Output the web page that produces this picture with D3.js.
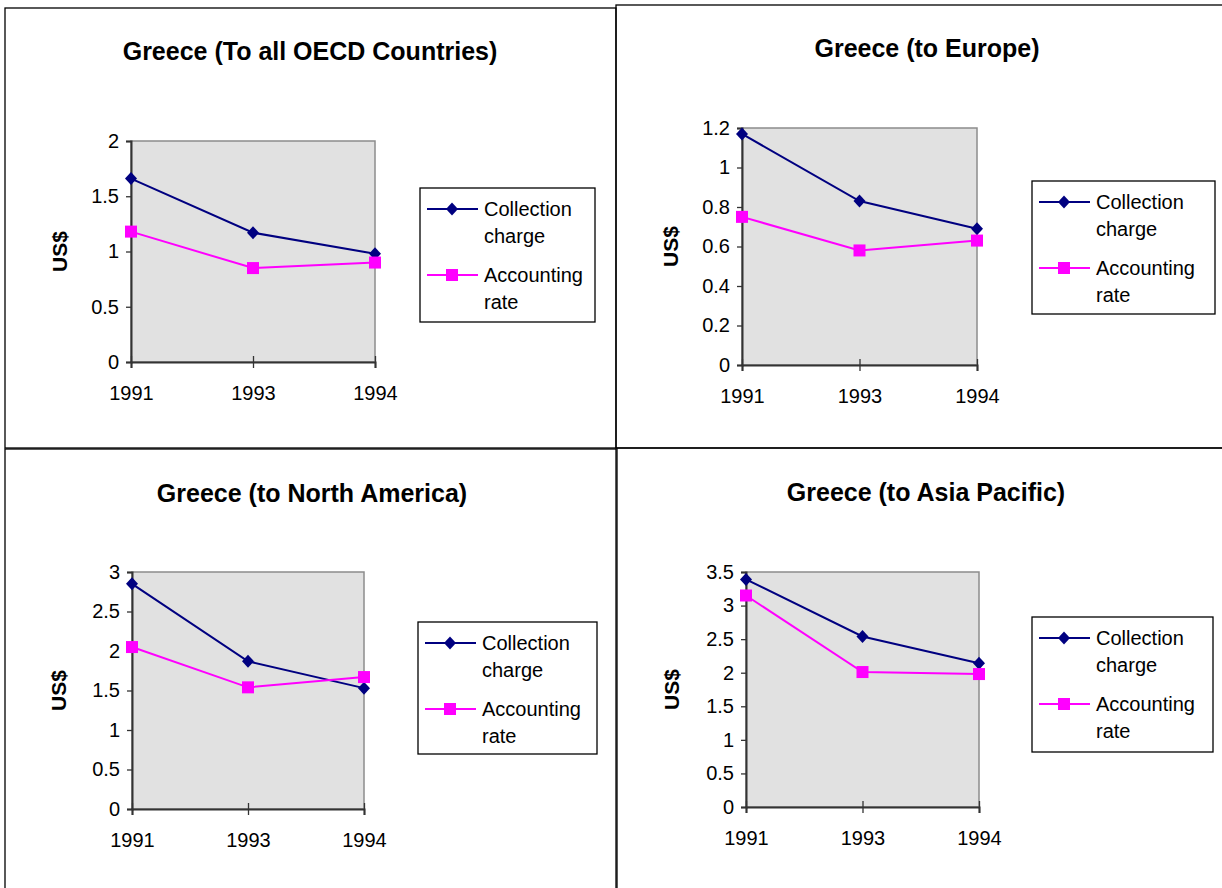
<!DOCTYPE html>
<html><head><meta charset="utf-8">
<script src="https://cdn.jsdelivr.net/npm/d3@7"></script>
<style>
html,body{margin:0;padding:0;background:#fff;}
svg{display:block;font-family:"Liberation Sans",Arial,sans-serif;}
</style></head><body>
<svg id="chart" width="1222" height="888"></svg>
<script>
// ---- data ----
const years = ["1991", "1993", "1994"];
const seriesNames = ["Collection charge", "Accounting rate"];
const legendLines = [["Collection", "charge"], ["Accounting", "rate"]];
const chartTitles = ["Greece (To all OECD Countries)", "Greece (to Europe)", "Greece (to North America)", "Greece (to Asia Pacific)"];
const yAxisLabel = "US$";

const collectionOECD = [1.66, 1.17, 0.98];
const accountingOECD = [1.18, 0.85, 0.90];
const collectionEurope = [1.17, 0.83, 0.69];
const accountingEurope = [0.75, 0.58, 0.63];
const collectionNorthAmerica = [2.85, 1.87, 1.53];
const accountingNorthAmerica = [2.05, 1.54, 1.67];
const collectionAsiaPacific = [3.39, 2.54, 2.14];
const accountingAsiaPacific = [3.15, 2.01, 1.98];

const ticksOECD = [0, 0.5, 1, 1.5, 2];
const ticksEurope = [0, 0.2, 0.4, 0.6, 0.8, 1, 1.2];
const ticksNorthAmerica = [0, 0.5, 1, 1.5, 2, 2.5, 3];
const ticksAsiaPacific = [0, 0.5, 1, 1.5, 2, 2.5, 3, 3.5];

// ---- layout / style ----
const panels = [
  { title: chartTitles[0], series: [collectionOECD, accountingOECD], ticks: ticksOECD,
    frame: {x: 5, y: 8, w: 611, h: 440}, plot: {l: 131, r: 375, t: 141, b: 362},
    legend: {x: 420, y: 188, w: 175, h: 134}, titlePos: {x: 310, y: 60}, ylabX: 59 },
  { title: chartTitles[1], series: [collectionEurope, accountingEurope], ticks: ticksEurope,
    frame: {x: 616, y: 5, w: 612, h: 443}, plot: {l: 742, r: 977, t: 128, b: 365},
    legend: {x: 1032, y: 181, w: 183, h: 133}, titlePos: {x: 927, y: 57}, ylabX: 670 },
  { title: chartTitles[2], series: [collectionNorthAmerica, accountingNorthAmerica], ticks: ticksNorthAmerica,
    frame: {x: 5, y: 449, w: 611, h: 445}, plot: {l: 132, r: 364, t: 572, b: 809},
    legend: {x: 418, y: 622, w: 179, h: 132}, titlePos: {x: 312, y: 502}, ylabX: 58 },
  { title: chartTitles[3], series: [collectionAsiaPacific, accountingAsiaPacific], ticks: ticksAsiaPacific,
    frame: {x: 617, y: 448, w: 612, h: 445}, plot: {l: 746, r: 979, t: 572, b: 807},
    legend: {x: 1032, y: 617, w: 181, h: 135}, titlePos: {x: 926, y: 501}, ylabX: 671 }
];
const colors = ["#000080", "#ff00ff"];
const diamondPath = "M0,-6.5L6,0L0,6.5L-6,0Z";

const svg = d3.select("#chart");

function marker(sel, i) {
  if (i === 0) {
    sel.append("path").attr("d", diamondPath).attr("fill", colors[0]);
  } else {
    sel.append("rect").attr("x", -6).attr("y", -6).attr("width", 12).attr("height", 12).attr("fill", colors[1]);
  }
}

panels.forEach(p => {
  const g = svg.append("g");
  // frame
  g.append("rect").attr("x", p.frame.x).attr("y", p.frame.y)
    .attr("width", p.frame.w).attr("height", p.frame.h)
    .attr("fill", "none").attr("stroke", "#000").attr("stroke-width", 1.3);

  // title
  g.append("text").attr("x", p.titlePos.x).attr("y", p.titlePos.y)
    .attr("text-anchor", "middle").attr("font-size", 25).attr("font-weight", "bold")
    .attr("fill", "#000").text(p.title);

  const x = d3.scalePoint().domain(years).range([p.plot.l, p.plot.r]).padding(0);
  const y = d3.scaleLinear().domain([0, d3.max(p.ticks)]).range([p.plot.b, p.plot.t]);

  // plot area
  g.append("rect").attr("x", p.plot.l).attr("y", p.plot.t)
    .attr("width", p.plot.r - p.plot.l).attr("height", p.plot.b - p.plot.t)
    .attr("fill", "#e1e1e1").attr("stroke", "#8c8c8c").attr("stroke-width", 1.5);

  // y axis
  const ya = g.append("g").attr("transform", `translate(${p.plot.l},0)`)
    .call(d3.axisLeft(y).tickValues(p.ticks).tickFormat(d => String(d)).tickSizeOuter(0).tickSize(5).tickPadding(8));
  ya.select(".domain").attr("stroke", "#333").attr("stroke-width", 2);
  ya.selectAll(".tick line").attr("x1", 0).attr("x2", -5).attr("stroke", "#333").attr("stroke-width", 1.3);
  ya.selectAll(".tick text").attr("x", -12).attr("font-size", 20).attr("font-family", "Liberation Sans, Arial, sans-serif").attr("fill", "#000");

  // x axis
  const xa = g.append("g").attr("transform", `translate(0,${p.plot.b})`)
    .call(d3.axisBottom(x).tickSizeOuter(0).tickSize(6).tickPadding(18));
  xa.select(".domain").attr("stroke", "#333").attr("stroke-width", 2);
  xa.selectAll(".tick line").attr("y1", -6).attr("y2", 6).attr("stroke", "#333").attr("stroke-width", 1.3);
  xa.selectAll(".tick text").attr("y", 24).attr("font-size", 20).attr("font-family", "Liberation Sans, Arial, sans-serif").attr("fill", "#000");

  // y label
  const cy = (p.plot.t + p.plot.b) / 2;
  g.append("text").attr("transform", `translate(${p.ylabX + 8},${cy}) rotate(-90)`)
    .attr("text-anchor", "middle").attr("font-size", 21).attr("font-weight", "bold").text(yAxisLabel);

  // series
  const line = d3.line().x((d, i) => x(years[i])).y(d => y(d));
  p.series.forEach((vals, si) => {
    g.append("path").datum(vals).attr("d", line).attr("fill", "none")
      .attr("stroke", colors[si]).attr("stroke-width", 2);
    vals.forEach((v, i) => {
      const m = g.append("g").attr("transform", `translate(${x(years[i])},${y(v)})`);
      marker(m, si);
    });
  });

  // legend
  const L = p.legend;
  g.append("rect").attr("x", L.x).attr("y", L.y).attr("width", L.w).attr("height", L.h)
    .attr("fill", "#fff").attr("stroke", "#000").attr("stroke-width", 1.3);
  seriesNames.forEach((name, si) => {
    const sy = L.y + (si === 0 ? 21 : 87);
    g.append("line").attr("x1", L.x + 7).attr("x2", L.x + 58).attr("y1", sy).attr("y2", sy)
      .attr("stroke", colors[si]).attr("stroke-width", 2);
    const m = g.append("g").attr("transform", `translate(${L.x + 32},${sy})`);
    marker(m, si);
    legendLines[si].forEach((ln, li) => {
      g.append("text").attr("x", L.x + 64).attr("y", sy + 7 + li * 27)
        .attr("font-size", 20).attr("fill", "#000").text(ln);
    });
  });
});
</script>
</body></html>
